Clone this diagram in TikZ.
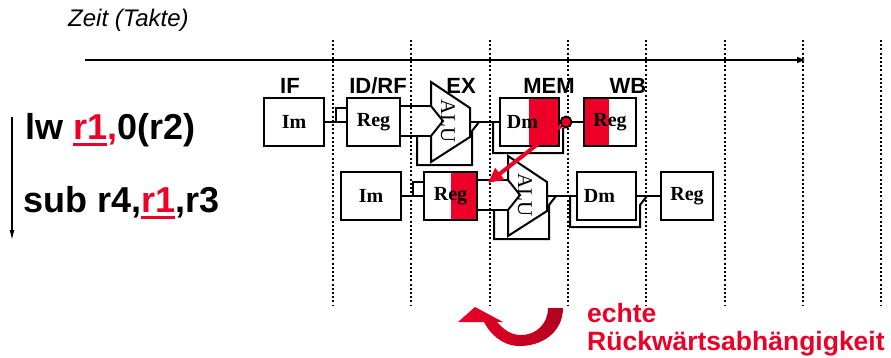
\documentclass[tikz,border=0pt]{standalone}
\usepackage{fontspec}
\setmainfont{Liberation Serif}
\newfontfamily\arial{Liberation Sans}
\usetikzlibrary{arrows.meta}
\definecolor{ared}{RGB}{236,0,40}
\newcommand\redul[1]{\setbox0\hbox{#1}\rlap{\rule[-7pt]{\wd0}{3pt}}\box0}
\tikzset{
  unit/.style={draw, line width=2pt, minimum height=48pt, inner sep=0pt,
    font=\fontsize{20}{20}\selectfont\bfseries},
  unitline/.style={line width=2pt, line join=miter},
  wire/.style={line width=2pt},
  alutext/.style={font=\fontsize{21}{21}\selectfont, rotate=-90, inner sep=0pt},
  tap/.style={circle, draw, fill=ared, line width=1.8pt, minimum size=11pt, inner sep=0pt},
  stagelbl/.style={font=\arial\fontsize{22}{22}\selectfont\bfseries, inner sep=0pt, anchor=base},
  clockline/.style={line width=2pt, dash pattern=on 2pt off 2.2pt},
  instr/.style={font=\arial\fontsize{36}{36}\selectfont\bfseries, inner sep=0pt, anchor=base west},
  warn/.style={font=\arial\fontsize{26.5}{26.5}\selectfont\bfseries, text=ared, inner sep=0pt, anchor=base west},
}
\begin{document}
\begin{tikzpicture}[x=1pt,y=-1pt]
	\useasboundingbox[fill=white] (0,0) rectangle (891,357);
	\node[font=\arial\itshape\fontsize{24}{24}\selectfont, anchor=base west, inner sep=0pt] (zeit) at (68,26) {Zeit (Takte)};
	% clock cycles
	\foreach \k in {0,...,7}
		\draw[clockline] (333+78.3*\k,40) -- (333+78.3*\k,305);
	\coordinate (t0) at (85,60);
	\coordinate (t1) at (806,60);
	\draw[line width=2pt, -{Latex[length=9pt,width=7pt]}] (t0) -- (t1);
	\node[stagelbl] (lif) at (290,93) {IF};
	\node[stagelbl] (lid) at (378,93) {ID/RF};
	\node[stagelbl] (lex) at (461,93) {EX};
	\node[stagelbl] (lmem) at (549,93) {MEM};
	\node[stagelbl] (lwb) at (628,93) {WB};

	\coordinate (o0) at (12,117);
	\coordinate (o1) at (12,240);
	\draw[line width=1.2pt, -{Latex[length=10pt,width=5pt]}] (o0) -- (o1);
	\node[instr] (lw) at (25,139) {lw {\color{ared}\redul{r1},}0(r2)};
	\node[instr] (sub) at (23,212) {sub r4,{\color{ared}\redul{r1}},r3};

	\begin{scope}
		\fill[ared] (529,98) rectangle (559,146);
		\fill[ared] (584,98) rectangle (609,146);
		\node[unit, minimum width=60pt] (im1) at (294,122) {Im};
		\node[unit, minimum width=53pt] (reg1) at (373.5,122) {Reg};
		\draw[wire] (im1.east) -- (reg1.west);
		\draw[wire] (336,122) |- ([yshift=14pt]reg1.west);
		\draw[unitline] (431,82) -- (470,108) -- (470,137) -- (431,162) -- (431,136) -- (443,121) -- (431,106) -- cycle;
		\node[alutext] (alu1) at (448,121) {ALU};
		\draw[wire] ([yshift=16pt]reg1.east) -- (431,106);
		\draw[wire] ([yshift=-14pt]reg1.east) -- (431,136);
		\draw[wire] (417,136) -- (417,165) -- (472,165) -- (472,131) -- (479,122);
		\node[unit, minimum width=59pt] (dm1) at (529.5,122) {Dm\hspace*{14pt}};
		\draw[wire] (470,122) -- (dm1.west);
		\node[tap] (tap1) at (566,122) {};
		\draw[wire] (dm1.east) -- (tap1);
		\draw[wire] (493,122) -- (493,153) -- (563,153) -- (563,129) -- (tap1);
		\node[unit, minimum width=52pt] (wb1) at (610,122) {Reg};
		\draw[wire] (tap1) -- (wb1.west);
	\end{scope}
	\begin{scope}[shift={(77,74)}]
		\fill[ared] (374,98) rectangle (400,146);
		\node[unit, minimum width=60pt] (im2) at (294,122) {Im};
		\node[unit, minimum width=53pt] (reg2) at (373.5,122) {Reg};
		\draw[wire] (im2.east) -- (reg2.west);
		\draw[wire] (336,122) |- ([yshift=14pt]reg2.west);
		\draw[unitline] (431,82) -- (470,108) -- (470,137) -- (431,162) -- (431,136) -- (443,121) -- (431,106) -- cycle;
		\node[alutext] (alu2) at (448,121) {ALU};
		\draw[wire] ([yshift=16pt]reg2.east) -- (431,106);
		\draw[wire] ([yshift=-14pt]reg2.east) -- (431,136);
		\draw[wire] (417,136) -- (417,165) -- (472,165) -- (472,131) -- (479,122);
		\node[unit, minimum width=59pt] (dm2) at (529.5,122) {Dm\hspace*{14pt}};
		\draw[wire] (470,122) -- (dm2.west);
		\draw[wire] (493,122) -- (493,153) -- (563,153) -- (563,131) -- (570,122);
		\node[unit, minimum width=52pt] (wb2) at (610,122) {Reg};
		\draw[wire] (dm2.east) -- (wb2.west);
	\end{scope}

	% forwarding back in time
	\coordinate (hit) at (488,183);
	\draw[ared, line width=4pt, -{Triangle[length=15pt,width=14pt]}] (tap1) -- (hit);

	\shade[left color=ared, right color=ared!75!black] (563,308) .. controls (563,332) and (542,347) .. (517,346)
		.. controls (502,345) and (490,334) .. (484,322) -- (458,322) -- (475,307) -- (503,322) -- (497,322)
		.. controls (505,331) and (512,335) .. (521,335) .. controls (537,335) and (548,323) .. (548,308) -- cycle;
	\node[warn] (echte) at (587,322) {echte};
	\node[warn] (rueck) at (587,350) {Rückwärtsabhängigkeit};
\end{tikzpicture}
\end{document}
